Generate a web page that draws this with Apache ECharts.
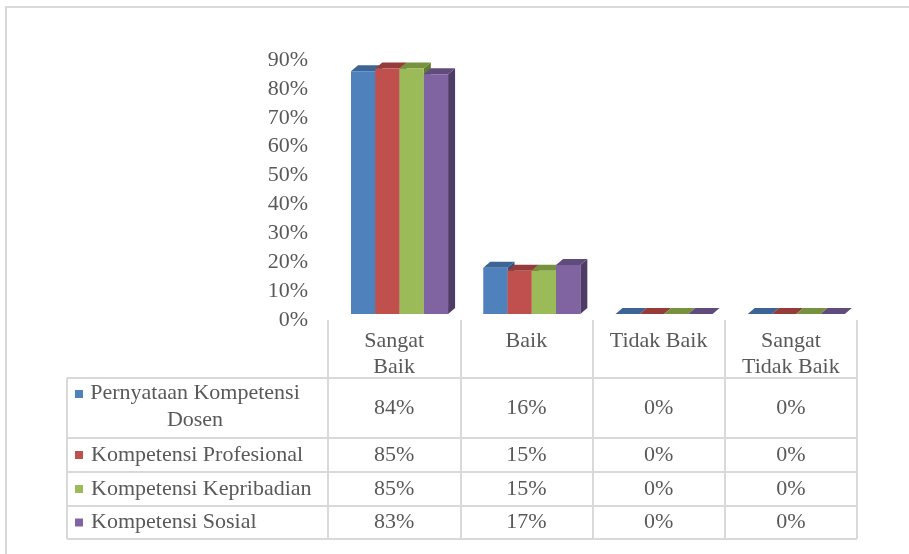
<!DOCTYPE html>
<html>
<head>
<meta charset="utf-8">
<script src="https://cdn.jsdelivr.net/npm/echarts@6/dist/echarts.min.js"></script>
<style>
  html, body { margin: 0; padding: 0; background: #fff; }
  #main { width: 909px; height: 554px; }
</style>
</head>
<body>
<div id="main"></div>
<script>
// data
const categories = ['Sangat\nBaik', 'Baik', 'Tidak Baik', 'Sangat\nTidak Baik'];
const seriesNames = ['Pernyataan Kompetensi Dosen', 'Kompetensi Profesional', 'Kompetensi Kepribadian', 'Kompetensi Sosial'];
const rowLabels = ['Pernyataan Kompetensi\nDosen', 'Kompetensi Profesional', 'Kompetensi Kepribadian', 'Kompetensi Sosial'];
const pernyataanDosen = [0.84, 0.16, 0, 0];
const profesional = [0.85, 0.15, 0, 0];
const kepribadian = [0.85, 0.15, 0, 0];
const sosial = [0.83, 0.17, 0, 0];
const yMin = 0, yMax = 0.9, yStep = 0.1;

const allValues = [pernyataanDosen, profesional, kepribadian, sosial];
const colors = ['#4f81bd', '#c0504d', '#9bbb59', '#8064a2'];
const topColors = ['#3c6494', '#953c3a', '#77923e', '#604b7d'];
const sideColors = ['#30507a', '#7a302e', '#617a31', '#4e3c66'];
const textColor = '#595959';
const font = '"Liberation Serif", "Times New Roman", serif';

const chart = echarts.init(document.getElementById('main'));

// 3D column: front face + top + right side
function renderBar(s) {
  return function (params, api) {
    const idx = api.value(0);
    const base = api.coord([idx, 0]);
    const top = api.coord([idx, api.value(1)]);
    const band = api.size([1, 0])[0];
    const w = band * 0.1835;
    const x = base[0] - band / 2 + band * 0.174 + s * w;
    const y0 = base[1] - 6, y1 = top[1] - 6;
    const dx = 7, dy = -6;
    return {
      type: 'group',
      children: [
        { type: 'polygon', shape: { points: [[x + w, y1], [x + w + dx, y1 + dy], [x + w + dx, y0 + dy], [x + w, y0]] }, style: { fill: sideColors[s] } },
        { type: 'polygon', shape: { points: [[x, y1], [x + dx, y1 + dy], [x + w + dx, y1 + dy], [x + w, y1]] }, style: { fill: topColors[s] } },
        { type: 'rect', shape: { x: x, y: y1, width: w, height: y0 - y1 }, style: { fill: colors[s] } }
      ]
    };
  };
}

const option = {
  animation: false,
  grid: { left: 328, right: 52, top: 60, bottom: 234 },
  xAxis: {
    type: 'category',
    data: categories,
    axisLine: { show: false },
    axisTick: { show: true, length: 219, lineStyle: { color: '#d9d9d9', width: 2 } },
    axisLabel: { color: textColor, fontFamily: font, fontSize: 22, lineHeight: 26, margin: 8, interval: 0 },
    splitLine: { show: false }
  },
  yAxis: {
    type: 'value',
    min: yMin, max: yMax, interval: yStep,
    axisLine: { show: false },
    axisTick: { show: false },
    splitLine: { show: false },
    axisLabel: {
      color: textColor, fontFamily: font, fontSize: 22, margin: 20,
      formatter: function (v) { return Math.round(v * 100) + '%'; }
    }
  },
  series: allValues.map(function (vals, s) {
    return {
      name: seriesNames[s],
      type: 'custom',
      renderItem: renderBar(s),
      encode: { x: 0, y: 1 },
      data: vals.map(function (v, i) { return [i, v]; })
    };
  })
};
chart.setOption(option);

// data table under the plot
const rowTops = [378, 438, 472, 506, 539];
const tableLeft = 67, tableRight = 857;
const line = { stroke: '#d9d9d9', lineWidth: 2 };
const graphic = [
  { type: 'rect', shape: { x: 6, y: 7, width: 920, height: 570 }, style: { fill: null, stroke: '#d9d9d9', lineWidth: 2 } },
  { type: 'line', shape: { x1: tableLeft, y1: rowTops[0], x2: tableLeft, y2: rowTops[4] }, style: line }
];
rowTops.forEach(function (y) {
  graphic.push({ type: 'line', shape: { x1: tableLeft, y1: y, x2: tableRight, y2: y }, style: line });
});
allValues.forEach(function (vals, s) {
  const yc = s === 0 ? 394 : (rowTops[s] + rowTops[s + 1]) / 2;
  const yv = (rowTops[s] + rowTops[s + 1]) / 2;
  graphic.push({ type: 'rect', shape: { x: 75, y: yc - 4, width: 8, height: 8 }, style: { fill: colors[s] } });
  graphic.push({
    type: 'text',
    x: s === 0 ? 195 : 91, y: s === 0 ? 380 : yv,
    style: {
      text: rowLabels[s], fill: textColor, font: '22px ' + font,
      align: s === 0 ? 'center' : 'left', verticalAlign: s === 0 ? 'top' : 'middle', lineHeight: 27
    }
  });
  vals.forEach(function (v, i) {
    const px = chart.convertToPixel({ xAxisIndex: 0 }, i);
    graphic.push({
      type: 'text', x: px, y: yv,
      style: { text: Math.round(v * 100) + '%', fill: textColor, font: '22px ' + font, align: 'center', verticalAlign: 'middle' }
    });
  });
});
chart.setOption({ graphic: graphic });
</script>
</body>
</html>
